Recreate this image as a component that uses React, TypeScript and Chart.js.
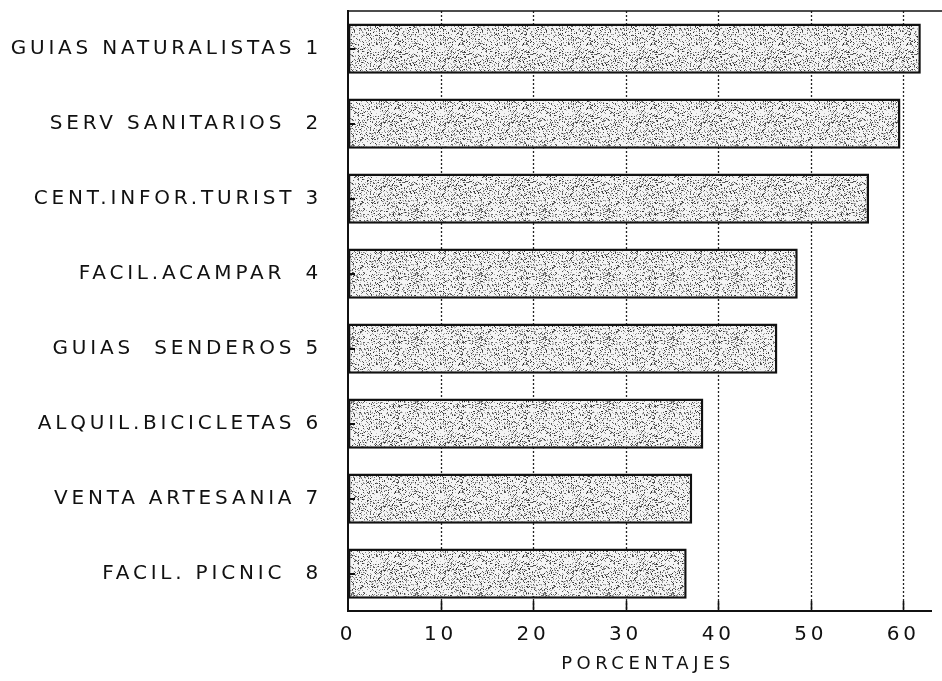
import React, { useEffect, useRef } from 'react';
import { Chart, registerables } from 'chart.js';

Chart.register(...registerables);

const categories: string[] = [
  'GUIAS NATURALISTAS 1',
  'SERV SANITARIOS  2',
  'CENT.INFOR.TURIST 3',
  'FACIL.ACAMPAR  4',
  'GUIAS  SENDEROS 5',
  'ALQUIL.BICICLETAS 6',
  'VENTA ARTESANIA 7',
  'FACIL. PICNIC  8',
];
const values: number[] = [61.9, 59.7, 56.3, 48.6, 46.4, 38.4, 37.2, 36.6];
const xTicks: number[] = [0, 10, 20, 30, 40, 50, 60];
const xTitle = 'PORCENTAJES';
const xMax = 63;

const FONT = '"DejaVu Sans", Verdana, sans-serif';

function makeStipple(): CanvasPattern | string {
  const c = document.createElement('canvas');
  c.width = 64;
  c.height = 64;
  const g = c.getContext('2d');
  if (!g) return '#cccccc';
  g.fillStyle = '#f4f4f4';
  g.fillRect(0, 0, 64, 64);
  let s = 987654321;
  const next = () => {
    s = (Math.imul(s, 1103515245) + 12345) & 0x7fffffff;
    return s / 0x7fffffff;
  };
  for (let i = 0; i < 1300; i++) {
    const x = Math.floor(next() * 64);
    const y = Math.floor(next() * 64);
    const v = Math.floor(40 + next() * 170);
    g.fillStyle = `rgb(${v},${v},${v})`;
    g.fillRect(x, y, 1, 1);
  }
  const p = g.createPattern(c, 'repeat');
  return p || '#cccccc';
}

const decoPlugin = {
  id: 'deco',
  beforeDraw(chart: any) {
    (chart.ctx as any).letterSpacing = '3.8px';
  },
  beforeDatasetsDraw(chart: any) {
    const { ctx, chartArea: a, scales } = chart;
    const x = scales.x;
    ctx.save();
    ctx.strokeStyle = '#222';
    ctx.lineWidth = 1.3;
    ctx.setLineDash([2, 2]);
    xTicks.forEach((v) => {
      if (v === 0) return;
      const px = Math.round(x.getPixelForValue(v)) + 0.5;
      ctx.beginPath();
      ctx.moveTo(px, a.top);
      ctx.lineTo(px, a.bottom);
      ctx.stroke();
    });
    ctx.restore();
  },
  afterDraw(chart: any) {
    const { ctx, chartArea: a, scales } = chart;
    const x = scales.x;
    const y = scales.y;
    ctx.save();
    ctx.setLineDash([]);
    ctx.strokeStyle = '#111';
    // top border
    ctx.lineWidth = 1.5;
    ctx.beginPath();
    ctx.moveTo(a.left, a.top);
    ctx.lineTo(chart.width, a.top);
    ctx.stroke();
    // inner ticks on x axis
    ctx.lineWidth = 1.6;
    xTicks.forEach((v) => {
      if (v === 0) return;
      const px = Math.round(x.getPixelForValue(v)) + 0.5;
      ctx.beginPath();
      ctx.moveTo(px, a.bottom);
      ctx.lineTo(px, a.bottom - 10);
      ctx.stroke();
    });
    // inner ticks on y axis
    ctx.lineWidth = 2;
    categories.forEach((_, i) => {
      const py = Math.round(y.getPixelForValue(i));
      ctx.beginPath();
      ctx.moveTo(a.left, py);
      ctx.lineTo(a.left + 7, py);
      ctx.stroke();
    });
    // axis title
    (ctx as any).letterSpacing = '4.5px';
    ctx.fillStyle = '#111';
    ctx.font = `18px ${FONT}`;
    ctx.textAlign = 'center';
    ctx.textBaseline = 'middle';
    ctx.fillText(xTitle, 648, 664);
    ctx.restore();
    (ctx as any).letterSpacing = '0px';
  },
};

export default function App() {
  const ref = useRef<HTMLCanvasElement | null>(null);

  useEffect(() => {
    document.body.style.margin = '0';
    const canvas = ref.current;
    if (!canvas) return;
    const chart = new Chart(canvas, {
      type: 'bar',
      data: {
        labels: categories,
        datasets: [
          {
            data: values,
            backgroundColor: makeStipple() as any,
            borderColor: '#111',
            borderWidth: 2.5,
            borderSkipped: false,
            barPercentage: 0.67,
            categoryPercentage: 1,
          },
        ],
      },
      options: {
        indexAxis: 'y',
        animation: false,
        responsive: false,
        devicePixelRatio: 1,
        layout: { padding: { top: 11, right: 11, bottom: 0, left: 0 } },
        plugins: {
          legend: { display: false },
          tooltip: { enabled: false },
        },
        scales: {
          x: {
            type: 'linear',
            min: 0,
            max: xMax,
            afterBuildTicks: (scale: any) => {
              scale.ticks = xTicks.map((v) => ({ value: v }));
            },
            afterFit: (scale: any) => {
              scale.height = 70;
              scale.paddingLeft = 0;
              scale.paddingRight = 0;
            },
            grid: { display: false, drawTicks: false },
            border: { display: true, color: '#111', width: 2 },
            ticks: {
              color: '#111',
              padding: 12,
              font: { family: FONT, size: 20 },
              maxRotation: 0,
            },
            title: { display: false },
          },
          y: {
            type: 'category',
            afterFit: (scale: any) => {
              scale.width = 348;
              scale.paddingTop = 0;
              scale.paddingBottom = 0;
            },
            grid: { display: false, drawTicks: false },
            border: { display: true, color: '#111', width: 2 },
            ticks: {
              color: '#111',
              padding: 26,
              font: { family: FONT, size: 20 },
            },
          },
        },
      },
      plugins: [decoPlugin],
    } as any);
    return () => {
      chart.destroy();
    };
  }, []);

  return (
    <div style={{ width: 942, height: 681 }}>
      <canvas ref={ref} width={942} height={681} style={{ display: 'block' }} />
    </div>
  );
}
